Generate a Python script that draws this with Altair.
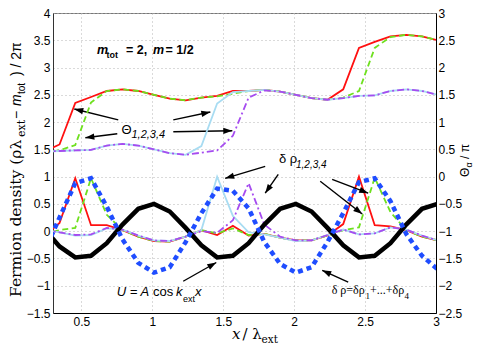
import math
import altair as alt
import pandas as pd

# ---------------- data ----------------
x_vals = [0.235, 0.346, 0.457, 0.568, 0.679, 0.790, 0.901, 1.012, 1.123, 1.235,
          1.346, 1.457, 1.568, 1.679, 1.790, 1.901, 2.012, 2.123, 2.235, 2.346,
          2.457, 2.568, 2.679, 2.790, 2.901, 3.012]

# external potential U = A cos k_ext x  (left axis units)
U_vals = [0.05, -0.28, -0.48, -0.45, -0.22, 0.12, 0.41, 0.50, 0.36, 0.06,
          -0.26, -0.48, -0.45, -0.22, 0.12, 0.41, 0.50, 0.36, 0.06, -0.26,
          -0.48, -0.45, -0.22, 0.12, 0.41, 0.50]

# total density deviation (blue dotted)
drho_sum = [-0.40, 0.25, 0.88, 0.97, 0.45, -0.15, -0.58, -0.76, -0.66, -0.20,
            0.33, 0.78, 0.74, 0.42, -0.20, -0.60, -0.76, -0.66, -0.20, 0.33,
            0.90, 0.97, 0.55, -0.05, -0.45, -0.70]

# individual density deviations
drho_1 = [-0.10, 0.15, 0.97, 0.11, 0.11, 0.02, -0.10, -0.18, -0.19, -0.10,
          0.02, -0.07, 0.10, -0.08, -0.05, -0.12, -0.17, -0.17, -0.08, 0.13,
          1.00, 0.11, 0.09, 0.02, -0.10, -0.17]
drho_2 = [-0.05, 0.02, 0.06, 0.97, 0.30, 0.02, -0.10, -0.18, -0.19, -0.10,
          0.02, -0.04, 0.05, -0.07, -0.05, -0.12, -0.17, -0.17, -0.08, 0.02,
          0.07, 0.98, 0.35, 0.02, -0.10, -0.17]
drho_3 = [0.02, -0.02, -0.08, -0.07, 0.05, 0.03, -0.08, -0.17, -0.18, -0.10,
          0.02, 1.00, 0.28, -0.02, -0.06, -0.12, -0.18, -0.17, -0.07, 0.03,
          -0.06, -0.04, 0.07, 0.03, -0.08, -0.17]
drho_4 = [0.02, -0.02, -0.07, -0.06, 0.06, 0.03, -0.08, -0.17, -0.18, -0.10,
          0.00, -0.03, 0.20, 0.88, 0.12, -0.10, -0.17, -0.17, -0.07, 0.03,
          -0.06, -0.04, 0.07, 0.03, -0.08, -0.17]

# phases Theta_alpha / pi  (right axis units)
theta_1 = [0.45, 0.59, 1.35, 1.46, 1.57, 1.60, 1.57, 1.50, 1.43, 1.40,
           1.45, 1.48, 1.57, 1.57, 1.59, 1.56, 1.50, 1.44, 1.41, 1.60,
           2.36, 2.47, 2.57, 2.60, 2.57, 2.50]
theta_2 = [0.45, 0.48, 0.58, 1.36, 1.57, 1.60, 1.57, 1.50, 1.43, 1.40,
           1.45, 1.47, 1.52, 1.57, 1.59, 1.56, 1.50, 1.44, 1.41, 1.45,
           1.57, 2.36, 2.56, 2.60, 2.57, 2.50]
theta_3 = [0.46, 0.47, 0.48, 0.49, 0.57, 0.60, 0.57, 0.50, 0.43, 0.40,
           0.56, 1.34, 1.55, 1.57, 1.59, 1.56, 1.50, 1.44, 1.41, 1.44,
           1.48, 1.49, 1.57, 1.60, 1.57, 1.50]
theta_4 = [0.46, 0.47, 0.48, 0.49, 0.57, 0.60, 0.57, 0.50, 0.43, 0.40,
           0.44, 0.48, 0.75, 1.45, 1.58, 1.56, 1.50, 1.44, 1.41, 1.44,
           1.48, 1.49, 1.57, 1.60, 1.57, 1.50]

x_ticks = [0.5, 1, 1.5, 2, 2.5, 3]
y_left_ticks = [-1.5, -1, -0.5, 0, 0.5, 1, 1.5, 2, 2.5, 3, 3.5, 4]
y_right_ticks = [-2.5, -2, -1.5, -1, -0.5, 0, 0.5, 1, 1.5, 2, 2.5, 3]

# annotation arrows (tail -> head), in data units of x and the left axis
arrow_x = [0.760, 0.753, 1.148, 1.148, 1.796, 1.888, 2.268, 2.184, 1.218, 2.381]
arrow_y = [2.040, 1.786, 2.040, 1.822, 1.187, 1.042, 0.951, 0.915, -0.918, -0.936]
arrow_x2 = [0.450, 0.528, 1.409, 1.564, 1.514, 1.796, 2.522, 2.480, 1.451, 2.198]
arrow_y2 = [2.240, 1.713, 2.185, 1.840, 0.969, 0.697, 0.697, 0.316, -0.574, -0.718]

# ---------------- layout ----------------
W, H = 383, 300
X_DOM = [0.3, 3]
YL_DOM = [-1.5, 4]
YR_DOM = [-2.5, 3]
SANS = "Liberation Sans"
SERIF = "DejaVu Serif"

xscale = alt.Scale(domain=X_DOM, nice=False, zero=False)
ylscale = alt.Scale(domain=YL_DOM, nice=False, zero=False)
yrscale = alt.Scale(domain=YR_DOM, nice=False, zero=False)

x_axis = alt.Axis(values=x_ticks, format="~g", title=None, grid=True, ticks=False,
                  labelFlush=False, labelPadding=3, domainColor="black")
yl_axis = alt.Axis(values=y_left_ticks, format="~g", title=None, grid=True, ticks=False,
                   labelFlush=False, labelPadding=3, domainColor="#333333")
yr_axis = alt.Axis(values=y_right_ticks, format="~g", title=None, grid=False, ticks=False,
                   orient="right", labelFlush=False, labelPadding=2, domainColor="black")


def line(vals, field, color, width, dash, yscale, yaxis):
    df = pd.DataFrame({"x": x_vals, field: vals})
    kw = dict(color=color, strokeWidth=width, clip=True, strokeCap="butt")
    if dash:
        kw["strokeDash"] = dash
    return alt.Chart(df).mark_line(**kw).encode(
        x=alt.X("x:Q", scale=xscale, axis=x_axis),
        y=alt.Y(f"{field}:Q", scale=yscale, axis=yaxis),
        order=alt.Order("x:Q"),
    )


RED = "#ff1010"
GREEN = "#6ee01e"
CYAN = "#a8dcf2"
PURPLE = "#a64cf0"
BLUE = "#1f4dff"

left_layers = [
    line(drho_1, "v", RED, 1.8, None, ylscale, yl_axis),
    line(drho_2, "v", GREEN, 1.8, [6, 3.5], ylscale, yl_axis),
    line(drho_3, "v", CYAN, 1.8, None, ylscale, yl_axis),
    line(drho_4, "v", PURPLE, 1.8, [7, 3, 2, 3], ylscale, yl_axis),
    line(U_vals, "v", "black", 4.5, None, ylscale, yl_axis),
    line(drho_sum, "v", BLUE, 4.5, [5, 4], ylscale, yl_axis),
]

# arrows
adf = pd.DataFrame({"x": arrow_x, "v": arrow_y, "x2": arrow_x2, "v2": arrow_y2})
px_per_x = W / (X_DOM[1] - X_DOM[0])
px_per_y = H / (YL_DOM[1] - YL_DOM[0])
adf["ang"] = [
    (math.degrees(math.atan2((b - a) * px_per_x, (d - c) * px_per_y)) + 360) % 360
    for a, b, c, d in zip(adf.x, adf.x2, adf.v, adf.v2)
]
shafts = alt.Chart(adf).mark_rule(color="black", strokeWidth=1.4).encode(
    x=alt.X("x:Q", scale=xscale, axis=x_axis),
    y=alt.Y("v:Q", scale=ylscale, axis=yl_axis),
    x2="x2:Q",
    y2="v2:Q",
)
heads = alt.Chart(adf).mark_point(
    shape="M0,0L-0.35,1L0.35,1Z", filled=True, color="black", opacity=1,
    size=324, strokeWidth=0,
).encode(
    x=alt.X("x2:Q", scale=xscale, axis=x_axis),
    y=alt.Y("v2:Q", scale=ylscale, axis=yl_axis),
    angle=alt.Angle("ang:Q", scale=None),
)
left_layers += [shafts, heads]

right_layers = [
    line(theta_1, "t", RED, 1.8, None, yrscale, yr_axis),
    line(theta_2, "t", GREEN, 1.8, [6, 3.5], yrscale, yr_axis),
    line(theta_3, "t", CYAN, 1.8, None, yrscale, yr_axis),
    line(theta_4, "t", PURPLE, 1.8, [7, 3, 2, 3], yrscale, yr_axis),
]

# ---------------- texts (pixel positions inside the plot area) ----------------
one = pd.DataFrame({"a": [0]})


def txt(s, px, py, size, font=SANS, style="normal", weight="normal", angle=0):
    return alt.Chart(one).mark_text(
        text=s, align="left", baseline="alphabetic", font=font, fontSize=size,
        fontStyle=style, fontWeight=weight, angle=angle, color="black",
    ).encode(x=alt.value(px), y=alt.value(py))


texts = [
    # m_tot = 2,  m = 1/2
    txt("m", 44, 40.5, 12.5, style="italic", weight="bold"),
    txt("tot", 53.5, 44.5, 9, weight="bold"),
    txt("= 2,", 73, 40.5, 12.5, weight="bold"),
    txt("m", 100, 40.5, 12.5, style="italic", weight="bold"),
    txt("= 1/2", 112.5, 40.5, 12.5, weight="bold"),
    # Theta_{1,2,3,4}
    txt("Θ", 68.5, 120.5, 13),
    txt("1,2,3,4", 78.5, 124.5, 11, style="italic"),
    # delta rho_{1,2,3,4}
    txt("δ ρ", 226, 149.5, 13),
    txt("1,2,3,4", 243, 154.5, 10, style="italic"),
    # U = A cos k_ext x
    txt("U = A", 63.7, 283, 13, style="italic"),
    txt("cos", 100, 283, 13),
    txt("k", 123, 283, 13, style="italic"),
    txt("ext", 130, 289, 9),
    txt("x", 142, 283, 13, style="italic"),
    # delta rho = sum
    txt("δ ρ=δρ", 278.7, 280.5, 12, font="Liberation Serif"),
    txt("1", 312.5, 285.5, 9, font="Liberation Serif"),
    txt("+...+δρ", 317, 280.5, 12, font="Liberation Serif"),
    txt("4", 351.5, 285.5, 9, font="Liberation Serif"),
    # x axis title
    txt("x", 179, 326, 15, font=SERIF, style="italic"),
    txt("/ λ", 189.5, 326, 15, font=SERIF),
    txt("ext", 208.5, 329.5, 10.5, font=SERIF),
    # left axis title (rotated)
    txt("Fermion density (ρλ", -32, 284, 15.5, font=SERIF, angle=270),
    txt("ext", -28, 124, 11, font=SERIF, angle=270),
    txt("−", -32, 106, 14, angle=270),
    txt("m", -32, 93, 14, style="italic", angle=270),
    txt("tot", -28, 81, 10, angle=270),
    txt(") / 2π", -32, 63, 14, angle=270),
    # right axis title (rotated)
    txt("Θ", 415.5, 164, 12, angle=270),
    txt("α", 419, 154.5, 9, angle=270),
    txt("/ π", 415.5, 146, 12, angle=270),
]

left = alt.layer(*left_layers)
right = alt.layer(*right_layers)

chart = (
    alt.layer(left, right, *texts)
    .resolve_scale(y="independent")
    .properties(
        width=W,
        height=H,
        autosize=alt.AutoSizeParams(type="none"),
        padding={"left": 45, "top": 5, "right": 41, "bottom": 33},
    )
    .configure_view(stroke="#777777", strokeWidth=1)
    .configure_axis(
        labelFont=SANS, labelFontSize=12, labelColor="black",
        gridColor="#b5b5b5", gridDash=[1, 3], gridWidth=1,
        domainWidth=1,
    )
)

chart.save("out.html", embed_options={"renderer": "svg", "actions": False})
